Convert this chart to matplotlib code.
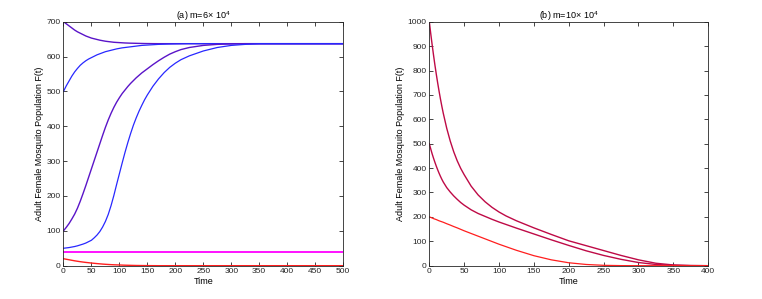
import numpy as np
import matplotlib.pyplot as plt

plt.rcParams['font.family'] = ['Liberation Sans', 'DejaVu Sans']
plt.rcParams['mathtext.fontset'] = 'custom'
plt.rcParams['mathtext.rm'] = 'Liberation Sans'

# panel (a): m = 6e4
t_a = [0, 5, 10, 15, 20, 25, 30, 35, 40, 45, 50, 55, 60, 65, 70, 75, 80, 85, 90, 95,
       100, 105, 110, 115, 120, 125, 130, 135, 140, 145, 150,
       160, 170, 180, 190, 200, 210, 225, 250, 275, 300, 325, 350, 400, 450, 500]
f_a_700 = [700, 694, 688, 682, 676, 671, 667, 663, 659, 656, 653, 651, 649, 647, 645.5, 644,
           643, 642, 641, 640.5, 640, 639.5, 639, 638.7, 638.4, 638.2, 638, 637.8, 637.6,
           637.4, 637.3, 637.1, 637, 637, 637, 637, 637, 637, 637, 637, 637, 637, 637, 637,
           637, 637]
f_a_500 = [500, 516, 530, 544, 556, 566, 575, 582, 588, 593, 597, 601, 605, 608, 611, 614,
           616, 618, 620, 622, 623.5, 625, 626, 627, 628, 629, 630, 631, 632, 632.5, 633,
           634, 635, 635.5, 636, 636.3, 636.6, 637, 637, 637, 637, 637, 637, 637, 637, 637]
f_a_100 = [100, 110, 121, 134, 148, 165, 185, 207, 230, 254, 278, 302, 326, 350, 374, 397,
           418, 437, 454, 469, 482, 494, 504, 514, 523, 531, 539, 546, 553, 559, 565,
           577, 588, 598, 607, 614, 620, 626, 632, 635, 636.5, 637, 637, 637, 637, 637]
f_a_50 = [50, 51, 52, 53.5, 55, 57, 59.5, 62, 65, 69, 73, 80, 88, 98, 111, 127,
          147, 172, 201, 233, 264, 295, 325, 353, 379, 403, 424, 443, 460, 476, 490,
          515, 536, 554, 569, 581, 591, 602, 616, 626, 632, 635, 637, 637, 637, 637]
f_a_20 = [20, 18.5, 17, 15.5, 14, 12.7, 11.5, 10.4, 9.4, 8.5, 7.6, 6.8, 6, 5.3, 4.6, 4,
          3.5, 3, 2.6, 2.3, 2, 1.7, 1.4, 1.2, 1, 0.8, 0.6, 0.5, 0.4, 0.3, 0.2,
          0.1, 0, 0, 0, 0, 0, 0, 0, 0, 0, 0, 0, 0, 0, 0]
f_a_const = [38] * len(t_a)

# panel (b): m = 10e4
t_b = [0, 2, 4, 6, 8, 10, 12, 14, 16, 18, 20, 25, 30, 35, 40, 45, 50,
       60, 70, 80, 90, 100, 110, 125, 150, 175, 200, 225, 250, 275, 300, 325, 350, 375, 400]
f_b_1000 = [1000, 952, 907, 864, 823, 785, 749, 715, 683, 653, 625, 563, 511, 467, 430, 399, 373,
            326, 290, 262, 239, 220, 204, 184, 155, 128, 102, 82, 62, 42, 24, 10, 3, 0.7, 0]
f_b_500 = [500, 479, 459, 441, 424, 408, 393, 379, 366, 354, 343, 320, 302, 286, 272, 259, 248,
           229, 214, 202, 190, 179, 169, 154, 130, 106, 83, 61, 42, 26, 13, 5, 1.5, 0.3, 0]
f_b_200 = [200, 198, 195.5, 193, 191, 189, 186.5, 184, 182, 180, 178, 172, 166.5, 160.5, 155, 149, 143,
           132, 121, 110, 99, 88, 78, 63, 41, 24, 12, 5, 1.5, 0.3, 0, 0, 0, 0, 0]

purple = '#5a14c8'
blue = '#2828ff'
crimson = '#be0a46'
red = '#ff1e1e'

fig = plt.figure(figsize=(7.62, 2.99), dpi=100)
ax1 = fig.add_axes([0.0833, 0.1114, 0.367, 0.816])
ax2 = fig.add_axes([0.5634, 0.1114, 0.366, 0.816])

ax1.plot(t_a, f_a_700, color=purple, lw=1)
ax1.plot(t_a, f_a_500, color=blue, lw=0.9)
ax1.plot(t_a, f_a_100, color=purple, lw=1)
ax1.plot(t_a, f_a_50, color=blue, lw=0.9)
ax1.plot(t_a, f_a_const, color='#ff00ff', lw=1.3)
ax1.plot(t_a, f_a_20, color=red, lw=1)
ax1.set_xlim(0, 500)
ax1.set_ylim(0, 700)
ax1.set_xticks(np.arange(0, 501, 50))
ax1.set_yticks(np.arange(0, 701, 100))
ax1.set_title(r'(a) m=6$\times$ 10$^4$', fontsize=6.5, pad=2)

ax2.plot(t_b, f_b_1000, color=crimson, lw=1)
ax2.plot(t_b, f_b_500, color=crimson, lw=1)
ax2.plot(t_b, f_b_200, color=red, lw=0.9)
ax2.set_xlim(0, 400)
ax2.set_ylim(0, 1000)
ax2.set_xticks(np.arange(0, 401, 50))
ax2.set_yticks(np.arange(0, 1001, 100))
ax2.set_title(r'(b) m=10$\times$ 10$^4$', fontsize=6.5, pad=2)

for ax in (ax1, ax2):
    ax.set_xlabel('Time', fontsize=6.5, labelpad=1)
    ax.set_ylabel('Adult Female Mosquito Population F(t)', fontsize=6.5, labelpad=2)
    ax.tick_params(direction='in', top=True, right=True, length=3, width=0.6,
                   labelsize=6, pad=2, colors='#262626')
    for s in ax.spines.values():
        s.set_linewidth(0.6)
        s.set_color('#262626')

fig.savefig('out.png', dpi=100)
